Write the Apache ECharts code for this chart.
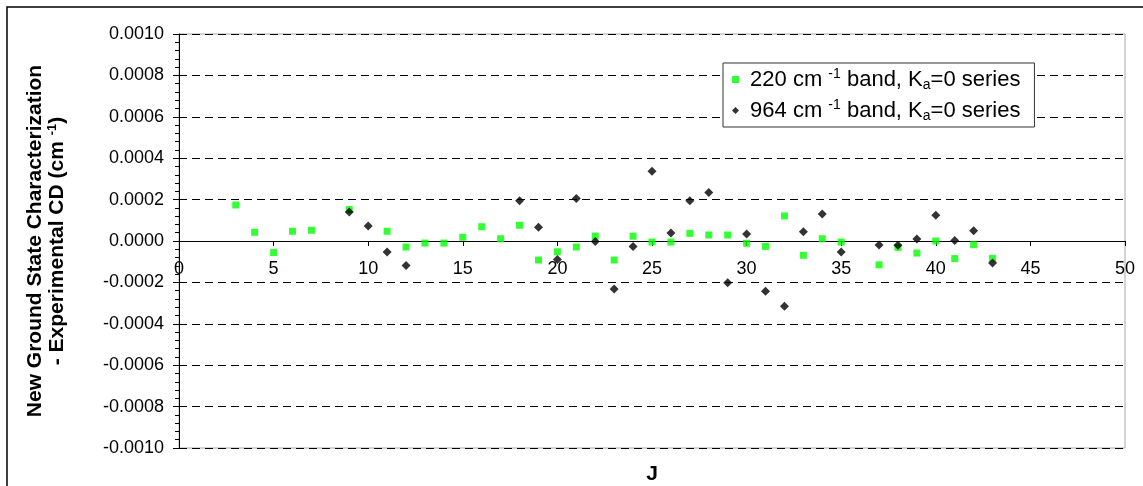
<!DOCTYPE html>
<html>
<head>
<meta charset="utf-8">
<title>Ground state CD residuals</title>
<script src="https://cdn.jsdelivr.net/npm/echarts@6/dist/echarts.min.js"></script>
<style>
  html, body { margin: 0; padding: 0; background: #fff; }
  #chart { width: 1143px; height: 486px; }
</style>
</head>
<body>
<div id="chart"></div>
<script>
// J values and residuals (new ground state characterization - experimental CD), cm-1
const j220 = [3, 4, 5, 6, 7, 9, 11, 12, 13, 14, 15, 16, 17, 18, 19, 20, 21, 22, 23, 24, 25, 26, 27, 28, 29, 30, 31, 32, 33, 34, 35, 37, 38, 39, 40, 41, 42, 43];
const res220 = [0.000174, 0.000042, -0.000056, 0.000047, 0.000052, 0.000152, 0.000047, -0.000029, -0.000010, -0.000010,
  0.000018, 0.000069, 0.000011, 0.000076, -0.000092, -0.000052, -0.000029, 0.000024, -0.000092, 0.000023,
  -0.000005, -0.000005, 0.000037, 0.000029, 0.000029, -0.000011, -0.000026, 0.000121, -0.000069, 0.000011,
  -0.000005, -0.000115, -0.000031, -0.000058, 0.000000, -0.000085, -0.000018, -0.000084];

const j964 = [9, 10, 11, 12, 18, 19, 20, 21, 22, 23, 24, 25, 26, 27, 28, 29, 30, 31, 32, 33, 34, 35, 37, 38, 39, 40, 41, 42, 43];
const res964 = [0.000140, 0.000073, -0.000053, -0.000118, 0.000194, 0.000066, -0.000089, 0.000205, -0.000002, -0.000232,
  -0.000026, 0.000337, 0.000039, 0.000194, 0.000234, -0.000202, 0.000034, -0.000243, -0.000315, 0.000045,
  0.000131, -0.000053, -0.000019, -0.000021, 0.000010, 0.000124, 0.000003, 0.000050, -0.000106];

const seriesNames = ['220 cm-1 band, Ka=0 series', '964 cm-1 band, Ka=0 series'];
const xTicks = { min: 0, max: 50, step: 5 };
const yTicks = { min: -0.0010, max: 0.0010, step: 0.0002 };

const pairs = (xs, ys) => xs.map((x, i) => [x, ys[i]]);
const FONT = 'Liberation Sans, Arial, sans-serif';

// plot box in pixels; the J axis is drawn across the y = 0 level
const GRID = { left: 179, right: 18, top: 34, bottom: 38 };
const plotHeight = 486 - GRID.top - GRID.bottom;
const zeroOffset = -plotHeight * (0 - yTicks.min) / (yTicks.max - yTicks.min);

// superscript / subscript markup for legend and axis title
const richMarks = {
  sup: { fontSize: 14, fontFamily: FONT, color: '#000', verticalAlign: 'top', lineHeight: 25 },
  sub: { fontSize: 14, fontFamily: FONT, color: '#000', verticalAlign: 'bottom', lineHeight: 25 }
};
const toRich = s => ' ' + s.replace('cm-1', 'cm {sup|-1}').replace('Ka', 'K{sub|a}');

const chart = echarts.init(document.getElementById('chart'), null, { renderer: 'canvas' });

chart.setOption({
  backgroundColor: '#fff',
  animation: false,
  graphic: [{
    type: 'rect',
    silent: true,
    shape: { x: 7, y: 7, width: 1200, height: 600 },
    style: { fill: 'none', stroke: '#000', lineWidth: 1.5 }
  }],
  grid: {
    left: GRID.left, right: GRID.right, top: GRID.top, bottom: GRID.bottom,
    outerBoundsMode: 'none',
    containLabel: false,
    show: true, borderColor: '#a8a8a8', borderWidth: 1, backgroundColor: '#fff'
  },
  legend: {
    orient: 'vertical',
    left: 723, top: 63,
    padding: [4, 14, 4, 9],
    itemGap: 6,
    itemWidth: 7, itemHeight: 7,
    backgroundColor: '#fff',
    borderColor: '#333', borderWidth: 1,
    data: [
      { name: seriesNames[0], icon: 'rect' },
      { name: seriesNames[1], icon: 'diamond' }
    ],
    formatter: toRich,
    textStyle: { fontSize: 22, fontFamily: FONT, color: '#000', lineHeight: 25, rich: richMarks }
  },
  xAxis: {
    type: 'value',
    position: 'bottom',
    offset: zeroOffset,
    min: xTicks.min, max: xTicks.max, interval: xTicks.step,
    name: 'J',
    nameLocation: 'middle',
    nameGap: 223,
    nameTextStyle: { fontSize: 21, fontWeight: 'bold', fontFamily: FONT, color: '#000' },
    axisLine: { show: true, onZero: false, lineStyle: { color: '#000', width: 1 } },
    axisTick: { show: true, length: 5, lineStyle: { color: '#000' } },
    axisLabel: { fontSize: 18, fontFamily: FONT, color: '#000', margin: 19 },
    splitLine: { show: false }
  },
  yAxis: {
    type: 'value',
    min: yTicks.min, max: yTicks.max, interval: yTicks.step,
    name: 'New Ground State Characterization\n- Experimental CD (cm {sup|-1})',
    nameLocation: 'middle',
    nameRotate: 90,
    nameGap: 111,
    nameTextStyle: {
      fontSize: 21, fontWeight: 'bold', fontFamily: FONT, color: '#000', lineHeight: 22, align: 'center',
      rich: { sup: { fontSize: 13, fontWeight: 'bold', fontFamily: FONT, color: '#000', verticalAlign: 'top', lineHeight: 22 } }
    },
    axisLine: { show: true, onZero: false, lineStyle: { color: '#000', width: 1 } },
    axisTick: { show: true, length: 6, lineStyle: { color: '#000' } },
    minorTick: { show: true, splitNumber: 5, length: 4, lineStyle: { color: '#000' } },
    axisLabel: {
      fontSize: 18, fontFamily: FONT, color: '#000', margin: 15,
      formatter: v => (Math.abs(v) < 1e-12 ? 0 : v).toFixed(4)
    },
    splitLine: { show: true, lineStyle: { color: '#000', type: [8, 5], width: 1 } }
  },
  series: [
    {
      name: seriesNames[0],
      type: 'scatter',
      symbol: 'rect',
      symbolSize: 7,
      itemStyle: { color: '#00ff00' },
      data: pairs(j220, res220),
      z: 2
    },
    {
      name: seriesNames[1],
      type: 'scatter',
      symbol: 'diamond',
      symbolSize: 9,
      itemStyle: { color: '#000' },
      data: pairs(j964, res964),
      z: 3
    }
  ]
});
</script>
</body>
</html>
